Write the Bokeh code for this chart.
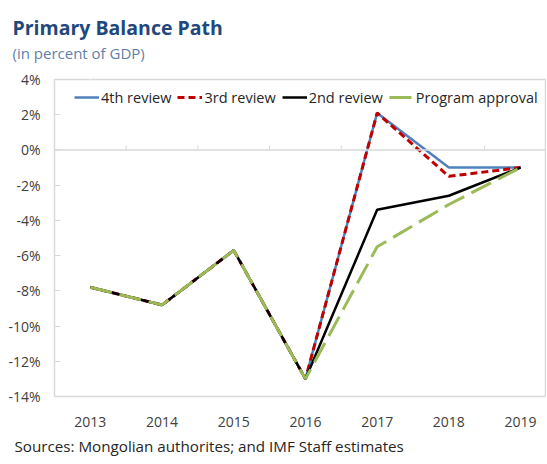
from bokeh.plotting import figure
from bokeh.models import (Range1d, FixedTicker, PrintfTickFormatter, Span, Title,
                          Legend, LegendItem, LinearAxis)
from bokeh.embed import file_html
from bokeh.resources import INLINE

# ---- data ----
years = [2013, 2014, 2015, 2016, 2017, 2018, 2019]
year_labels = ["2013", "2014", "2015", "2016", "2017", "2018", "2019"]
review4 = [-7.8, -8.8, -5.7, -13.0, 2.1, -1.0, -1.0]
review3 = [-7.8, -8.8, -5.7, -13.0, 2.1, -1.5, -1.0]
review2 = [-7.8, -8.8, -5.7, -13.0, -3.4, -2.6, -1.0]
program = [-7.8, -8.8, -5.7, -13.0, -5.5, -3.1, -1.0]
y_ticks = [-14, -12, -10, -8, -6, -4, -2, 0, 2, 4]

FONT = "Open Sans"
W, H = 546, 463

p = figure(width=W, height=H, output_backend="svg", toolbar_location=None,
           x_range=Range1d(2012.5, 2019.362), y_range=Range1d(-14, 4),
           min_border_left=54, min_border_right=0, min_border_top=79,
           min_border_bottom=67)
p.title.visible = False

p.xgrid.visible = False
p.ygrid.visible = False
p.outline_line_color = "#D9D9D9"
p.outline_line_width = 1.5
p.background_fill_color = "white"
p.border_fill_color = "white"

# y axis
p.yaxis.ticker = FixedTicker(ticks=y_ticks)
p.yaxis.formatter = PrintfTickFormatter(format="%d%%")
p.yaxis.axis_line_color = None
p.yaxis.major_tick_in = 6
p.yaxis.major_tick_out = 0
p.yaxis.major_tick_line_color = "#D9D9D9"
p.yaxis.minor_tick_line_color = None
p.yaxis.major_label_standoff = 14
p.yaxis.major_label_text_font = FONT
p.yaxis.major_label_text_font_size = "14px"
p.yaxis.major_label_text_color = "#404040"

# x axis
p.xaxis.ticker = FixedTicker(ticks=years)
p.xaxis.major_label_overrides = {y: l for y, l in zip(years, year_labels)}
p.xaxis.axis_line_color = None
p.xaxis.major_tick_line_color = None
p.xaxis.minor_tick_line_color = None
p.xaxis.major_label_standoff = 14
p.xaxis.major_label_text_font = FONT
p.xaxis.major_label_text_font_size = "14px"
p.xaxis.major_label_text_color = "#404040"

# zero line (category axis)
p.add_layout(Span(location=0, dimension="width", line_color="#D9D9D9", line_width=1.5))
bounds = [y + 0.5 for y in years[:-1]]
p.segment(x0=bounds, y0=[0] * len(bounds), x1=bounds, y1=[0.25] * len(bounds),
          line_color="#D9D9D9", line_width=1)

# series
r4 = p.line(years, review4, line_color="#4F81BD", line_width=2.5)
r3 = p.line(years, review3, line_color="#C00000", line_width=3, line_dash="7 4")
r2 = p.line(years, review2, line_color="black", line_width=2.5)
rp = p.line(years, program, line_color="#9BBB59", line_width=3, line_dash="22 8")

legend = Legend(items=[
    LegendItem(label="4th review", renderers=[r4]),
    LegendItem(label="3rd review", renderers=[r3]),
    LegendItem(label="2nd review", renderers=[r2]),
    LegendItem(label="Program approval", renderers=[rp]),
], orientation="horizontal", location=(12, 281), padding=8, margin=0,
   glyph_width=25, glyph_height=20, label_height=20, label_standoff=2, spacing=6,
   label_text_font=FONT, label_text_font_size="14.5px", label_text_color="#262626",
   background_fill_alpha=0, border_line_alpha=0)
p.add_layout(legend, "center")

# spacer above the frame: an axis with one white (invisible) outward tick, empty label
spacer = LinearAxis(ticker=FixedTicker(ticks=years[:1]), axis_line_color=None,
                    major_tick_in=0, major_tick_out=15, major_tick_line_color="white",
                    minor_tick_line_color=None, major_label_standoff=0,
                    major_label_overrides={years[0]: ""},
                    major_label_text_font_size="1px")
p.add_layout(spacer, "above")

# subtitle and title (added after spacer -> stacked further from the frame)
p.add_layout(Title(text="(in percent of GDP)", align="left", offset=-42, standoff=1,
                   vertical_align="middle", text_font=FONT, text_font_size="15px",
                   text_font_style="normal", text_color="#5F7FA8"), "above")
p.add_layout(Title(text="Primary Balance Path", align="left", offset=-42, standoff=0,
                   vertical_align="middle", text_font=FONT, text_font_size="19.5px",
                   text_font_style="bold", text_color="#1F497D"), "above")

# source note below x axis
p.add_layout(Title(text="Sources: Mongolian authorites; and IMF Staff estimates",
                   align="left", offset=-40, standoff=11, vertical_align="middle",
                   text_font=FONT, text_font_size="15.2px", text_font_style="normal",
                   text_color="#262626"), "below")

open("out.html", "w").write(file_html(p, INLINE))
